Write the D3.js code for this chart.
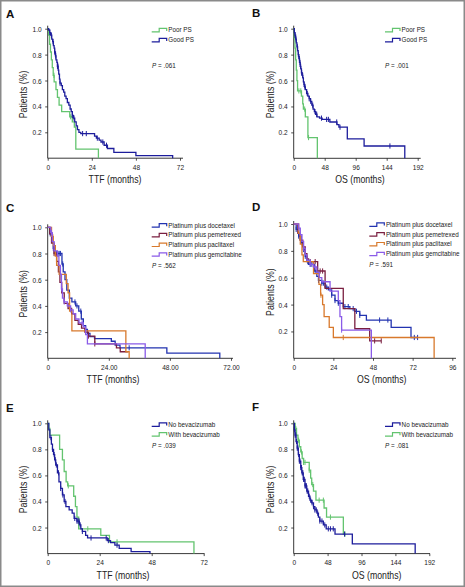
<!DOCTYPE html>
<html><head><meta charset="utf-8">
<script src="https://cdn.jsdelivr.net/npm/d3@7"></script>
<style>body{margin:0;background:#fff}svg{display:block}</style>
</head><body>
<svg id="c" width="465" height="587"></svg>
<script>
// ---------------- DATA (time in months, survival fraction) ----------------
const yTicks = [0.2, 0.4, 0.6, 0.8, 1.0];
const ticksTTF72 = [0, 24, 48, 72];
const ticksOS192 = [0, 48, 96, 144, 192];
const ticksOS96 = [0, 24, 48, 72, 96];
const ticksC = [0, 24, 48, 72];
const ticksCLabels = ["0", "24.00", "48.00", "72.00"];

const legendPS = ["Poor PS", "Good PS"];
const legendRegimen = ["Platinum plus docetaxel", "Platinum plus pemetrexed", "Platinum plus paclitaxel", "Platinum plus gemcitabine"];
const legendBev = ["No bevacizumab", "With bevacizumab"];
const pValues = [".061", ".001", ".562", ".591", ".039", ".081"];

// Panel A (TTF by PS)
const aGood = [[0.5,0.99],[1.1,0.97],[1.6,0.95],[2.2,0.92],[2.7,0.90],[3.1,0.87],[3.5,0.85],[3.8,0.82],[4.2,0.79],[4.5,0.76],[5,0.74],[5.3,0.71],[5.7,0.68],[6,0.65],[6.4,0.61],[6.7,0.58],[7.4,0.56],[8,0.53],[8.7,0.51],[9.3,0.48],[10,0.46],[10.7,0.43],[11.5,0.41],[12.2,0.38],[12.8,0.36],[13.4,0.33],[14,0.31],[14.7,0.28],[15.5,0.25],[16.2,0.22],[17,0.20],[18,0.19],[25.5,0.17],[26.5,0.155],[28,0.14],[29,0.125],[30.7,0.10],[32.5,0.075],[36,0.045],[48,0.02],[68,0]];
const aGoodCens = [1.1,2,2.9,3.8,4.4,5.3,5.6,6.7,13.4,14.3,19,21,27,30,32];
const aPoor = [[0.5,0.95],[1,0.88],[1.5,0.82],[2,0.76],[2.5,0.70],[3,0.64],[3.5,0.59],[4.5,0.53],[5.3,0.47],[6.2,0.41],[7.6,0.36],[12,0.32],[13.4,0.28],[14.5,0.24],[15.3,0.07],[27.6,0]];
const aPoorCens = [3.4,12.5];

// Panel B (OS by PS)
const bGood = [[1,0.97],[2,0.95],[3,0.92],[4,0.89],[5,0.86],[6,0.83],[7,0.80],[8,0.77],[9,0.74],[10,0.71],[11,0.69],[12,0.66],[13,0.64],[14,0.62],[15,0.59],[16,0.57],[17,0.55],[18,0.53],[20,0.50],[22,0.48],[24,0.46],[26,0.44],[28,0.41],[30,0.38],[32,0.36],[34,0.34],[36,0.32],[40,0.31],[44,0.30],[56,0.28],[67,0.26],[70,0.24],[83,0.15],[109,0.095],[172,0]];
const bGoodCens = [2,3.6,5.7,7.2,8.8,9.8,10.8,12.4,13.9,16,17.5,21,24,26.3,29.4,33,35.6,43,51,53.7,66.6,71.7,149];
const bPoor = [[1,0.93],[2,0.85],[3,0.76],[4,0.68],[5,0.60],[6,0.52],[12,0.48],[14,0.42],[15,0.38],[18,0.32],[22,0.16],[36.6,0]];
const bPoorCens = [8,11,17,23];

// Panel C (TTF by regimen)
const cDoc = [[0.9,0.95],[1.6,0.89],[2.2,0.84],[2.9,0.80],[5.6,0.72],[6.1,0.66],[6.8,0.60],[7.5,0.52],[8.5,0.46],[9.5,0.43],[11,0.40],[12.2,0.36],[13.2,0.30],[14,0.25],[14.9,0.22],[15.6,0.19],[16.6,0.165],[18.4,0.15],[25,0.13],[26.5,0.10],[28.4,0.08],[46.8,0.04],[67.6,0]];
const cDocCens = [1,2.2,3.5,4,4.5,5,5.9,10.7,11.5,13,32];
const cPem = [[0.8,0.95],[1.5,0.88],[2.5,0.80],[3.5,0.74],[4.2,0.66],[4.8,0.58],[5.5,0.50],[6.5,0.42],[8,0.38],[9.4,0.34],[10.7,0.29],[12,0.26],[13.3,0.23],[14.6,0.20],[16,0.17],[18.5,0.11],[27,0.08],[28.5,0.05]];
const cPemEnd = 31.5;
const cPemCens = [2.5,16,18.5];
const cPac = [[1.5,0.93],[2.2,0.86],[3,0.78],[3.5,0.71],[4.5,0.64],[7.3,0.57],[8,0.50],[8.6,0.36],[9.5,0.21],[30.7,0.05],[32,0]];
const cPacCens = [2];
const cGem = [[1.2,0.96],[1.8,0.89],[2.5,0.82],[3.8,0.78],[4.4,0.71],[5,0.64],[5.4,0.53],[5.8,0.46],[6.4,0.43],[7.7,0.40],[9,0.37],[10,0.34],[11,0.30],[12.3,0.27],[14,0.24],[14.9,0.18],[15.6,0.11],[38.3,0]];
const cGemCens = [1.5,5.5,6.5,9,13.5];

// Panel D (OS by regimen)
const dDoc = [[1.5,0.96],[3,0.91],[4.5,0.86],[5.8,0.81],[7,0.76],[8,0.72],[9,0.70],[12.5,0.65],[14,0.61],[15,0.58],[17,0.56],[19,0.53],[21,0.51],[23,0.47],[25,0.43],[27,0.41],[30,0.385],[34,0.37],[37,0.35],[40,0.32],[44,0.285],[59,0.23],[71,0.155]];
const dDocEnd = 75;
const dDocCens = [1.5,3,5,6,7,8.5,10,11,13,15,17,18,20,23,25,27,31,33,36,38,40,52,57,73,75];
const dPem = [[2.5,0.93],[3.8,0.88],[5.5,0.83],[7,0.78],[8,0.74],[9,0.72],[14.5,0.65],[19,0.52],[30,0.37],[37,0.22],[46,0.13]];
const dPemEnd = 53;
const dPemCens = [8,10,13,16,17.5,49,53];
const dPac = [[3,0.93],[4,0.85],[5,0.77],[5.8,0.72],[12,0.63],[15.3,0.55],[16.3,0.47],[17.5,0.40],[18.4,0.31],[21.5,0.23],[24,0.155],[85,0]];
const dPacCens = [16.5,30];
const dGem = [[3,0.97],[4,0.92],[5,0.87],[6,0.82],[7,0.77],[8,0.73],[10,0.70],[12,0.68],[14,0.64],[15.5,0.60],[17,0.57],[22,0.50],[27,0.43],[28,0.31],[29,0.21],[47,0]];
const dGemCens = [3,6,10,13,29];

// Panel E (TTF by bevacizumab)
const eNo = [[0.5,0.95],[1,0.89],[1.7,0.84],[2.2,0.80],[2.7,0.76],[3.2,0.72],[3.7,0.68],[4.5,0.62],[5.2,0.55],[6,0.50],[6.8,0.45],[7.6,0.40],[8.4,0.36],[9.9,0.335],[11.3,0.31],[12.2,0.27],[13.5,0.25],[14.6,0.22],[15.3,0.19],[16,0.17],[17.5,0.14],[18.4,0.12],[27.5,0.10],[29,0.085],[31,0.065],[33,0.04],[38.5,0.015],[47.2,0]];
const eNoCens = [1.5,2.2,3,3.5,4,5,6,7,8,12.5,13.5,14,14.5,15,16,20,27,28,32];
const eWith = [[0.5,0.96],[1,0.91],[5.5,0.80],[6.8,0.72],[7.6,0.63],[8.5,0.55],[9.2,0.52],[12,0.44],[12.8,0.36],[13.5,0.28],[14.3,0.19],[24.5,0.14],[28.5,0.09],[67.5,0]];
const eWithCens = [9.5,18.5,32];

// Panel F (OS by bevacizumab)
const fNo = [[1,0.95],[2,0.91],[3.3,0.86],[5,0.81],[6.5,0.76],[8,0.71],[10,0.66],[11.5,0.62],[13.5,0.57],[16,0.52],[18.5,0.48],[21,0.44],[23,0.41],[25.5,0.39],[28,0.36],[30,0.335],[33,0.31],[35,0.28],[37,0.25],[42,0.22],[46,0.19],[58.5,0.15],[83,0.075],[172,0]];
const fNoCens = [1,2,3,4,5,6,7,8,9,10,11,12,13,14,15,16,17,18,19,20,22,24,26,28,30,32,34,37,40,44,49,52,56,72];
const fWith = [[2,0.96],[4,0.91],[6,0.87],[8,0.82],[10,0.78],[12,0.73],[14,0.70],[22,0.64],[24,0.58],[25.5,0.53],[28,0.48],[31.5,0.41],[43,0.35],[46.5,0.28],[70.3,0.15]];
const fWithEnd = 73;
const fWithCens = [3,7,11,14,16,22,27,36,42,52,72.7];

// ---------------- STYLE / LAYOUT ----------------
const BLUE = "#1d1d9c", GREEN = "#63c46f", RED = "#7a1f40", ORANGE = "#d8792c", PURPLE = "#8a5be8", DBLUE = "#2233b0";
const SANS = "'Liberation Sans',Arial,sans-serif";
const SQ = 0.84; // horizontal condensing of axis text

const panels = [
  {letter:"A", lx:6, ly:18, x0:47.7, x1:180, xe:183, y0:158.2, y1:28.7, xmax:72, xt:ticksTTF72, xl:null, xlab:"TTF (months)", xlabX:115, ylabX:23,
   legend:{x:151.7, y:30, dy:10, names:legendPS}, p:{x:152, y:68, v:pValues[0]},
   curves:[{d:aPoor,c:aPoorCens,col:GREEN},{d:aGood,c:aGoodCens,col:BLUE}]},
  {letter:"B", lx:252, ly:17, x0:293.7, x1:417.7, xe:420.7, y0:158.3, y1:28.7, xmax:192, xt:ticksOS192, xl:null, xlab:"OS (months)", xlabX:360, ylabX:270,
   legend:{x:385, y:30, dy:10, names:legendPS}, p:{x:385, y:68, v:pValues[1]},
   curves:[{d:bPoor,c:bPoorCens,col:GREEN},{d:bGood,c:bGoodCens,col:BLUE}]},
  {letter:"C", lx:6, ly:212, x0:47.7, x1:231, xe:233, y0:358.3, y1:227.3, xmax:72, xt:ticksC, xl:ticksCLabels, xlab:"TTF (months)", xlabX:113, ylabX:23,
   legend:{x:151.7, y:225.3, dy:9.7, names:legendRegimen}, p:{x:152, y:267.5, v:pValues[2]},
   curves:[{d:cDoc,c:cDocCens,col:DBLUE},{d:cPem,c:cPemCens,col:RED,end:cPemEnd},{d:cPac,c:cPacCens,col:ORANGE},{d:cGem,c:cGemCens,col:PURPLE}]},
  {letter:"D", lx:252, ly:211, x0:293.7, x1:452.3, xe:456, y0:358.3, y1:224, xmax:96, xt:ticksOS96, xl:null, xlab:"OS (months)", xlabX:381.7, ylabX:270,
   legend:{x:369.3, y:224.5, dy:9.8, names:legendRegimen}, p:{x:369.3, y:267, v:pValues[3]},
   curves:[{d:dDoc,c:dDocCens,col:DBLUE,end:dDocEnd},{d:dPem,c:dPemCens,col:RED,end:dPemEnd},{d:dPac,c:dPacCens,col:ORANGE},{d:dGem,c:dGemCens,col:PURPLE}]},
  {letter:"E", lx:6, ly:411.5, x0:47.7, x1:203.7, xe:204.5, y0:553.6, y1:423.3, xmax:72, xt:ticksTTF72, xl:null, xlab:"TTF (months)", xlabX:123, ylabX:23,
   legend:{x:151.7, y:424.5, dy:9.8, names:legendBev}, p:{x:152, y:448, v:pValues[4]},
   curves:[{d:eWith,c:eWithCens,col:GREEN},{d:eNo,c:eNoCens,col:BLUE}], legendCols:[BLUE, GREEN]},
  {letter:"F", lx:252, ly:410.5, x0:293.7, x1:429.3, xe:430, y0:553.6, y1:423.3, xmax:192, xt:ticksOS192, xl:null, xlab:"OS (months)", xlabX:376.7, ylabX:270,
   legend:{x:385, y:424.5, dy:9.8, names:legendBev}, p:{x:385, y:448, v:pValues[5]},
   curves:[{d:fWith,c:fWithCens,col:GREEN,end:fWithEnd},{d:fNo,c:fNoCens,col:BLUE}], legendCols:[BLUE, GREEN]}
];

const svg = d3.select("#c");
svg.append("rect").attr("x",0).attr("y",0).attr("width",465).attr("height",587).attr("fill","#fff");
svg.append("rect").attr("x",0.75).attr("y",0.75).attr("width",463.5).attr("height",585.5)
   .attr("fill","none").attr("stroke","#8a8a8a").attr("stroke-width",1.5);

function stepAt(data, t){ let s = 1; for (const [tt, ss] of data) { if (tt <= t) s = ss; else break; } return s; }

panels.forEach(P => {
  const g = svg.append("g");
  const x = d3.scaleLinear().domain([0, P.xmax]).range([P.x0, P.x1]);
  const y = d3.scaleLinear().domain([0, 1]).range([P.y0, P.y1]);

  // panel letter
  g.append("text").attr("x", P.lx).attr("y", P.ly).text(P.letter)
    .attr("font-family", SANS).attr("font-weight", "bold").attr("font-size", 11.5).attr("fill", "#111");

  // axes lines
  g.append("line").attr("x1", P.x0).attr("x2", P.xe).attr("y1", P.y0).attr("y2", P.y0).attr("stroke", "#222").attr("stroke-width", 0.9);
  g.append("line").attr("x1", P.x0).attr("x2", P.x0).attr("y1", P.y0).attr("y2", y(1) - 3).attr("stroke", "#222").attr("stroke-width", 0.9);

  const xa = d3.axisBottom(x).tickValues(P.xt).tickSize(2.5).tickPadding(3.5)
    .tickFormat((d, i) => P.xl ? P.xl[i] : String(d));
  const gx = g.append("g").attr("transform", `translate(0,${P.y0})`).call(xa);
  const ya = d3.axisLeft(y).tickValues(yTicks).tickSize(2.5).tickPadding(3.5).tickFormat(d3.format(".1f"));
  const gy = g.append("g").attr("transform", `translate(${P.x0},0)`).call(ya);
  [gx, gy].forEach(a => {
    a.select(".domain").remove();
    a.selectAll("line").attr("stroke", "#222").attr("stroke-width", 0.8);
    a.selectAll("text").attr("font-family", SANS).attr("font-size", 7.8).attr("fill", "#222")
      .attr("transform", `scale(${SQ},1)`);
  });
  gy.selectAll("text").attr("x", -6 / SQ);

  // axis titles
  g.append("text").attr("transform", `translate(${P.xlabX},${P.y0 + 25}) scale(${SQ},1)`)
    .attr("text-anchor", "middle").text(P.xlab)
    .attr("font-family", SANS).attr("font-size", 10.4).attr("fill", "#222");
  g.append("text").attr("transform", `translate(${P.ylabX + 3.5},${(P.y0 + P.y1) / 2 + 1}) rotate(-90) scale(${SQ},1)`)
    .attr("text-anchor", "middle").text("Patients (%)")
    .attr("font-family", SANS).attr("font-size", 10.4).attr("fill", "#222");

  // curves
  const line = d3.line().x(d => x(d[0])).y(d => y(d[1])).curve(d3.curveStepAfter);
  P.curves.forEach(cv => {
    const pts = [[0, 1], ...cv.d];
    const last = cv.d[cv.d.length - 1];
    if (cv.end !== undefined) pts.push([cv.end, last[1]]);
    g.append("path").attr("d", line(pts)).attr("fill", "none").attr("stroke", cv.col)
      .attr("stroke-width", 1.3).attr("stroke-linejoin", "miter");
    g.selectAll(null).data(cv.c).enter().append("line")
      .attr("x1", t => x(t)).attr("x2", t => x(t))
      .attr("y1", t => y(stepAt(cv.d, t)) - 2.6).attr("y2", t => y(stepAt(cv.d, t)) + 2.6)
      .attr("stroke", cv.col).attr("stroke-width", 1);
  });

  // legend
  const L = P.legend;
  const cols = P.legendCols || P.curves.map(c => c.col);
  L.names.forEach((nm, i) => {
    const yy = L.y + i * L.dy;
    const xx = L.x;
    g.append("path").attr("d", `M${xx},${yy + 1.8}H${xx + 7.5}V${yy - 1.6}H${xx + 15}V${yy + 1}`)
      .attr("fill", "none").attr("stroke", cols[i]).attr("stroke-width", 1.2);
    g.append("text").attr("x", xx + 16.6).attr("y", yy + 2.3).text(nm)
      .attr("font-family", SANS).attr("font-size", 6.3).attr("fill", "#222");
  });
  const pt = g.append("text").attr("x", P.p.x).attr("y", P.p.y).attr("font-family", SANS).attr("font-size", 6.3).attr("fill", "#222");
  pt.append("tspan").attr("font-style", "italic").text("P");
  pt.append("tspan").text(" = " + P.p.v);
});
</script>
</body></html>
